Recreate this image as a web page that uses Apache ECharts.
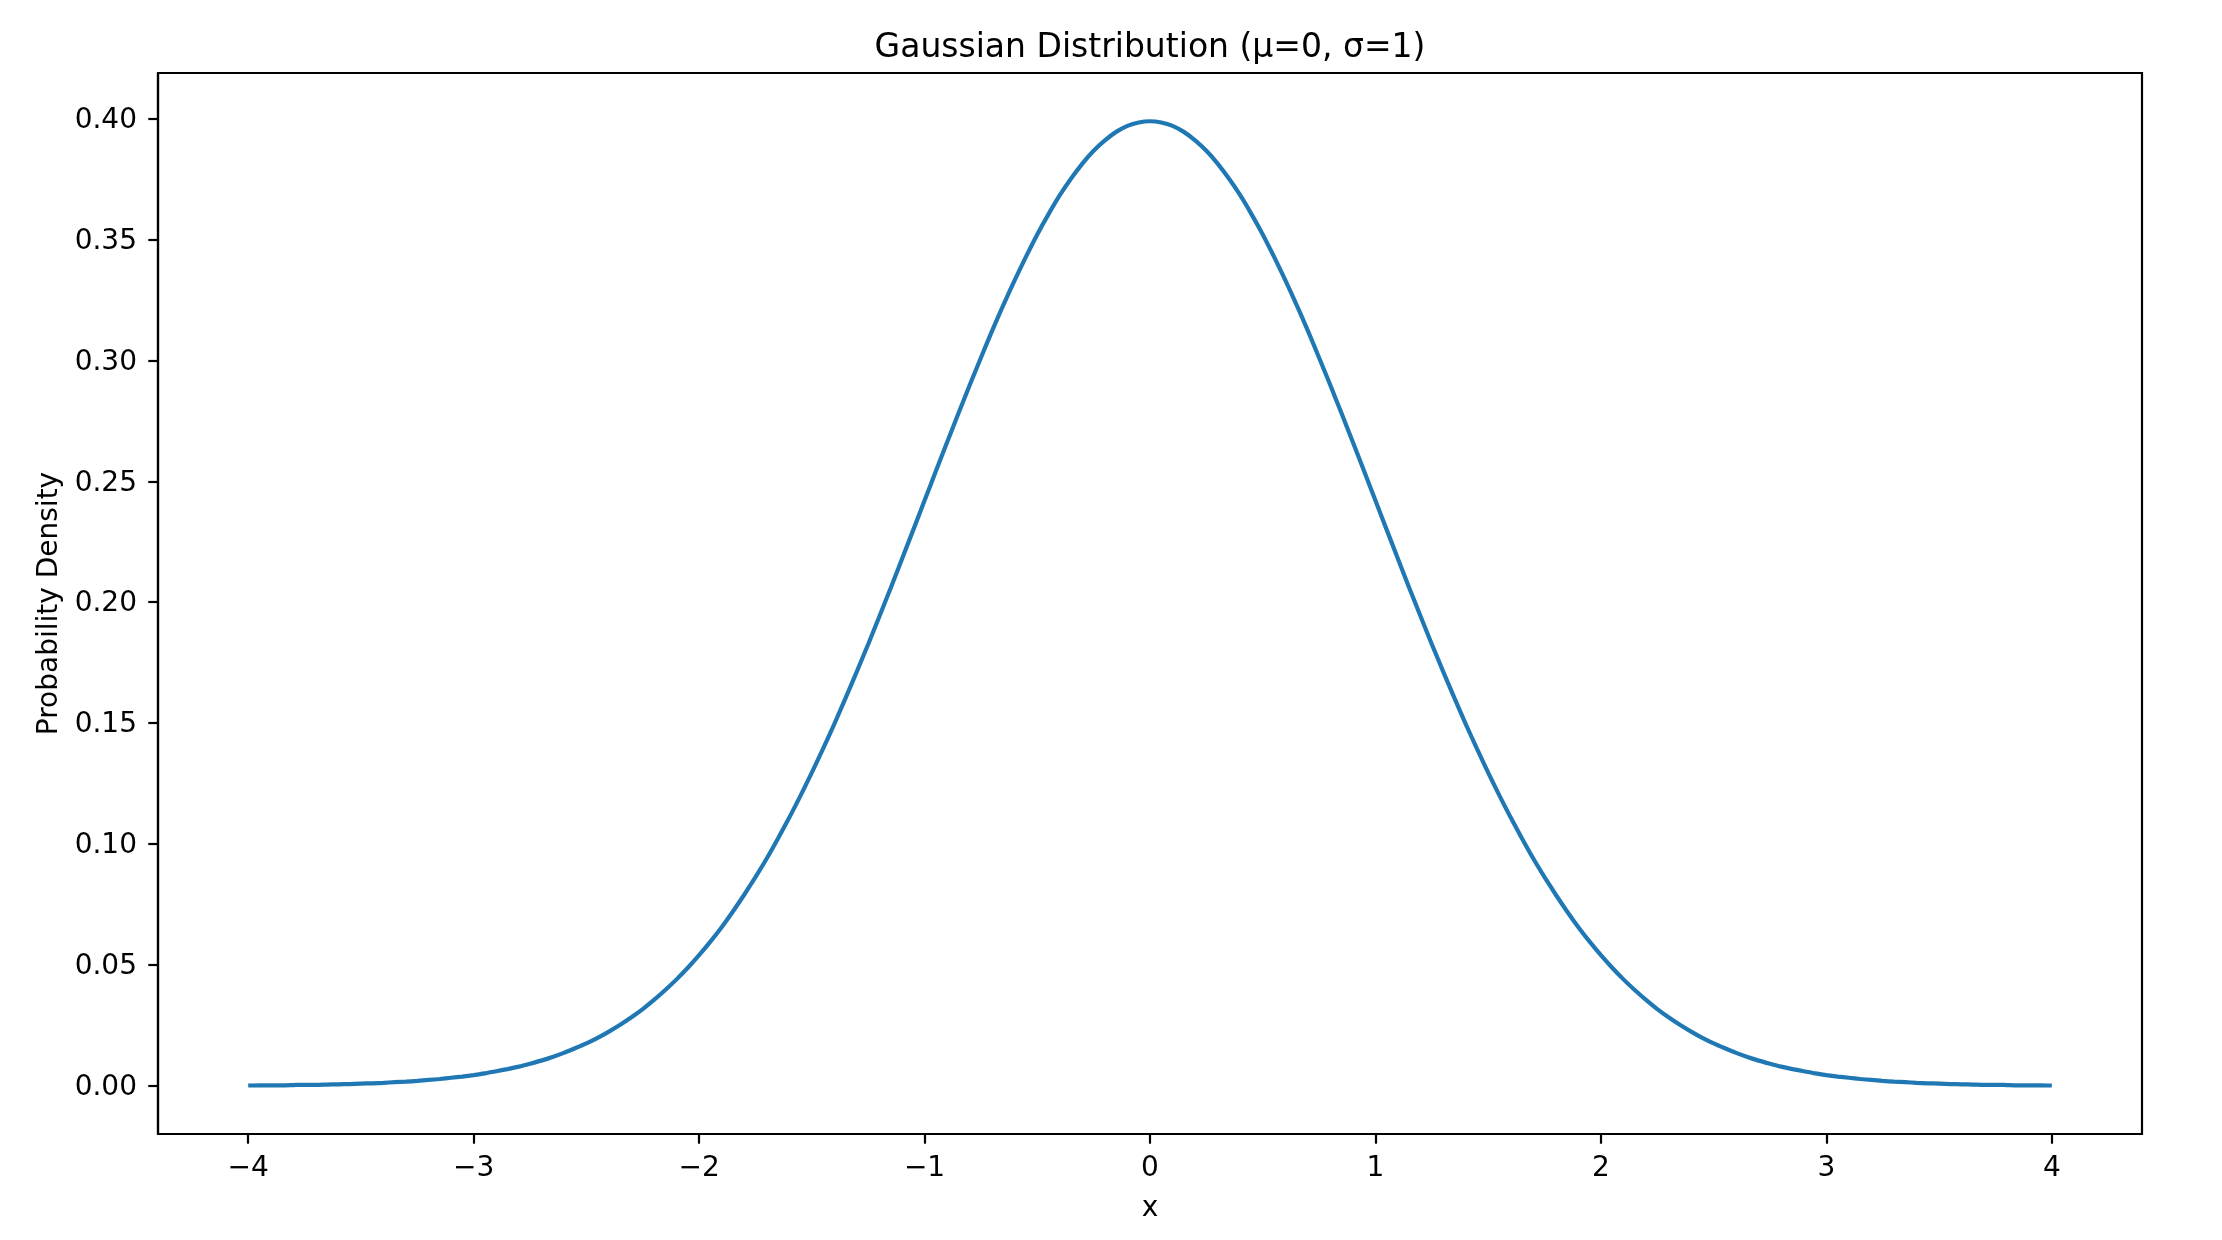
<!DOCTYPE html>
<html>
<head>
<meta charset="utf-8">
<script src="https://cdn.jsdelivr.net/npm/echarts@6/dist/echarts.min.js"></script>
<style>html,body{margin:0;padding:0;background:#fff;}#c{width:2222px;height:1240px;}</style>
</head>
<body>
<div id="c"></div>
<script>
const xValues = [-4.00,-3.95,-3.90,-3.85,-3.80,-3.75,-3.70,-3.65,-3.60,-3.55,-3.50,-3.45,-3.40,-3.35,-3.30,-3.25,-3.20,-3.15,-3.10,-3.05,
-3.00,-2.95,-2.90,-2.85,-2.80,-2.75,-2.70,-2.65,-2.60,-2.55,-2.50,-2.45,-2.40,-2.35,-2.30,-2.25,-2.20,-2.15,-2.10,-2.05,
-2.00,-1.95,-1.90,-1.85,-1.80,-1.75,-1.70,-1.65,-1.60,-1.55,-1.50,-1.45,-1.40,-1.35,-1.30,-1.25,-1.20,-1.15,-1.10,-1.05,
-1.00,-0.95,-0.90,-0.85,-0.80,-0.75,-0.70,-0.65,-0.60,-0.55,-0.50,-0.45,-0.40,-0.35,-0.30,-0.25,-0.20,-0.15,-0.10,-0.05,
0.00,0.05,0.10,0.15,0.20,0.25,0.30,0.35,0.40,0.45,0.50,0.55,0.60,0.65,0.70,0.75,0.80,0.85,0.90,0.95,
1.00,1.05,1.10,1.15,1.20,1.25,1.30,1.35,1.40,1.45,1.50,1.55,1.60,1.65,1.70,1.75,1.80,1.85,1.90,1.95,
2.00,2.05,2.10,2.15,2.20,2.25,2.30,2.35,2.40,2.45,2.50,2.55,2.60,2.65,2.70,2.75,2.80,2.85,2.90,2.95,
3.00,3.05,3.10,3.15,3.20,3.25,3.30,3.35,3.40,3.45,3.50,3.55,3.60,3.65,3.70,3.75,3.80,3.85,3.90,3.95,4.00];
const density = [0.0001,0.0002,0.0002,0.0002,0.0003,0.0004,0.0004,0.0005,0.0006,0.0007,0.0009,0.0010,0.0012,0.0015,0.0017,0.0020,0.0024,0.0028,0.0033,0.0038,
0.0044,0.0051,0.0060,0.0069,0.0079,0.0091,0.0104,0.0119,0.0136,0.0155,0.0175,0.0198,0.0224,0.0252,0.0283,0.0317,0.0355,0.0396,0.0440,0.0488,
0.0540,0.0596,0.0656,0.0721,0.0790,0.0863,0.0940,0.1023,0.1109,0.1200,0.1295,0.1394,0.1497,0.1604,0.1714,0.1826,0.1942,0.2059,0.2179,0.2299,
0.2420,0.2541,0.2661,0.2780,0.2897,0.3011,0.3123,0.3230,0.3332,0.3429,0.3521,0.3605,0.3683,0.3752,0.3814,0.3867,0.3910,0.3945,0.3970,0.3984,
0.3989,0.3984,0.3970,0.3945,0.3910,0.3867,0.3814,0.3752,0.3683,0.3605,0.3521,0.3429,0.3332,0.3230,0.3123,0.3011,0.2897,0.2780,0.2661,0.2541,
0.2420,0.2299,0.2179,0.2059,0.1942,0.1826,0.1714,0.1604,0.1497,0.1394,0.1295,0.1200,0.1109,0.1023,0.0940,0.0863,0.0790,0.0721,0.0656,0.0596,
0.0540,0.0488,0.0440,0.0396,0.0355,0.0317,0.0283,0.0252,0.0224,0.0198,0.0175,0.0155,0.0136,0.0119,0.0104,0.0091,0.0079,0.0069,0.0060,0.0051,
0.0044,0.0038,0.0033,0.0028,0.0024,0.0020,0.0017,0.0015,0.0012,0.0010,0.0009,0.0007,0.0006,0.0005,0.0004,0.0004,0.0003,0.0002,0.0002,0.0002,0.0001];
const xTicks = [-4,-3,-2,-1,0,1,2,3,4];
const yTicks = [0,0.05,0.10,0.15,0.20,0.25,0.30,0.35,0.40];
const titleText = 'Gaussian Distribution (μ=0, σ=1)';

const font = 'DejaVu Sans';
const chart = echarts.init(document.getElementById('c'), null, {renderer: 'canvas'});
const pts = xValues.map((x, i) => [x, density[i]]);
chart.setOption({
  animation: false,
  backgroundColor: '#ffffff',
  graphic: [{
    type: 'text', x: 1150, y: 32,
    style: {text: titleText, fontFamily: font, fontSize: 33, fill: '#000',
      align: 'center', verticalAlign: 'top'}
  }],
  grid: {left: 158, right: 80, top: 73, bottom: 106, containLabel: false,
    show: true, borderColor: '#000', borderWidth: 2.2},
  xAxis: {
    type: 'value', min: -4.4, max: 4.4,
    name: 'x', nameLocation: 'middle', nameGap: 61,
    nameTextStyle: {fontFamily: font, fontSize: 28, color: '#000'},
    axisLine: {show: true, onZero: false, lineStyle: {color: '#000', width: 2.2}},
    axisTick: {show: true, length: 9.7, lineStyle: {color: '#000', width: 2.2}, customValues: xTicks},
    axisLabel: {fontFamily: font, fontSize: 28, color: '#000', margin: 21, customValues: xTicks,
      formatter: v => (v < 0 ? '\u2212' + Math.abs(v) : String(v))},
    splitLine: {show: false}
  },
  yAxis: {
    type: 'value', min: -0.01995, max: 0.41885,
    name: 'Probability Density', nameLocation: 'middle', nameGap: 92,
    nameTextStyle: {fontFamily: font, fontSize: 28, color: '#000'},
    axisLine: {show: true, onZero: false, lineStyle: {color: '#000', width: 2.2}},
    axisTick: {show: true, length: 9.7, lineStyle: {color: '#000', width: 2.2}, customValues: yTicks},
    axisLabel: {fontFamily: font, fontSize: 28, color: '#000', margin: 21, customValues: yTicks,
      verticalAlign: 'top', lineHeight: 4,
      formatter: v => v.toFixed(2)},
    splitLine: {show: false}
  },
  series: [{
    type: 'line', data: pts, showSymbol: false, smooth: 0.2,
    lineStyle: {color: '#1f77b4', width: 4.2, cap: 'butt'},
    itemStyle: {color: '#1f77b4'}
  }]
});
</script>
</body>
</html>
